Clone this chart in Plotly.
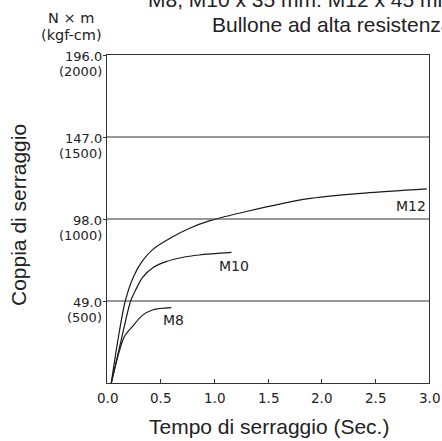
import plotly.graph_objects as go

# Data
m12_t = [0.04, 0.10, 0.17, 0.25, 0.33, 0.43, 0.60, 0.77, 0.96, 1.30, 1.86, 2.40, 2.98]
m12_v = [0, 25, 49, 64, 73, 80, 87, 92.5, 97, 102.5, 110, 113.5, 116]
m10_t = [0.04, 0.13, 0.22, 0.27, 0.33, 0.43, 0.55, 0.70, 0.86, 1.16]
m10_v = [0, 25, 49, 56, 63, 69, 72.5, 75, 76.5, 78]
m8_t = [0.04, 0.16, 0.24, 0.33, 0.43, 0.60]
m8_v = [0, 27.5, 34, 40.4, 43.8, 45]

curve_names = ["M12", "M10", "M8"]
label_t = [2.83, 1.18, 0.62]
label_v = [105.5, 69.7, 37.4]

y_ticks = [49, 98, 147, 196]
y_tick_nm = ["49.0", "98.0", "147.0", "196.0"]
y_tick_kgf = ["(500)", "(1000)", "(1500)", "(2000)"]
x_ticks = [0.0, 0.5, 1.0, 1.5, 2.0, 2.5, 3.0]
x_tick_text = ["0.0", "0.5", "1.0", "1.5", "2.0", "2.5", "3.0"]

FONT = "Liberation Sans"
NUMFONT = "DejaVu Sans"
TXT = "#222"

# plot area in screen pixels: x 107..429, y 55..383
def px(sx):
    return (sx - 107) / 322

def py(sy):
    return (383 - sy) / 328

fig = go.Figure()
for t, v in [(m12_t, m12_v), (m10_t, m10_v), (m8_t, m8_v)]:
    fig.add_trace(go.Scatter(x=t, y=v, mode="lines",
                             line=dict(color="#1a1a1a", width=1.2, shape="spline", smoothing=0.8),
                             showlegend=False, hoverinfo="skip"))

for name, t, v in zip(curve_names, label_t, label_v):
    fig.add_annotation(x=t, y=v, text=name, showarrow=False,
                       font=dict(family=NUMFONT, size=14, color=TXT))

for yv, a, b in zip(y_ticks, y_tick_nm, y_tick_kgf):
    fig.add_annotation(x=0, xref="paper", y=yv, text=a, showarrow=False,
                       xanchor="right", yanchor="middle", xshift=-4, yshift=-1, borderpad=0,
                       font=dict(family=NUMFONT, size=13, color=TXT))
    fig.add_annotation(x=0, xref="paper", y=yv, text=b, showarrow=False,
                       xanchor="right", yanchor="middle", xshift=-4, yshift=-16, borderpad=0,
                       font=dict(family=NUMFONT, size=13, color=TXT))

for xv, lab in zip(x_ticks, x_tick_text):
    fig.add_annotation(x=xv, y=0, yref="paper", text=lab, showarrow=False,
                       xanchor="center", yanchor="middle", yshift=-14.5,
                       font=dict(family=NUMFONT, size=13.5, color=TXT))

for yv in y_ticks[:3]:
    fig.add_shape(type="line", xref="paper", x0=0, x1=1, y0=yv, y1=yv,
                  line=dict(color="#333", width=1.2))

fig.add_annotation(x=px(71), xref="paper", y=py(18), yref="paper", text="N × m",
                   showarrow=False, xanchor="center", yanchor="middle", borderpad=0,
                   font=dict(family=NUMFONT, size=14.5, color=TXT))
fig.add_annotation(x=px(71), xref="paper", y=py(35), yref="paper", text="(kgf-cm)",
                   showarrow=False, xanchor="center", yanchor="middle", borderpad=0,
                   font=dict(family=NUMFONT, size=14.5, color=TXT))
fig.add_annotation(x=px(210), xref="paper", y=py(25), yref="paper",
                   text="Bullone ad alta resistenza", showarrow=False,
                   xanchor="left", yanchor="middle",
                   font=dict(family=FONT, size=21, color=TXT))
fig.add_annotation(x=px(146), xref="paper", y=py(-0.5), yref="paper",
                   text="M8, M10 x 35 mm. M12 x 45 mm", showarrow=False,
                   xanchor="left", yanchor="middle",
                   font=dict(family=FONT, size=21, color=TXT))
fig.add_annotation(x=px(269), xref="paper", y=py(426), yref="paper",
                   text="Tempo di serraggio (Sec.)", showarrow=False,
                   xanchor="center", yanchor="middle",
                   font=dict(family=FONT, size=21, color=TXT))
fig.add_annotation(x=px(18), xref="paper", y=py(215), yref="paper",
                   text="Coppia di serraggio", showarrow=False, textangle=-90,
                   xanchor="center", yanchor="middle",
                   font=dict(family=FONT, size=21, color=TXT))

fig.update_layout(
    width=442, height=441,
    margin=dict(l=107, r=13, t=55, b=58),
    paper_bgcolor="white", plot_bgcolor="white",
    hovermode=False,
    xaxis=dict(range=[0, 3.0], tickvals=x_ticks, showticklabels=False,
               ticks="inside", ticklen=4, tickcolor="#333", showgrid=False, zeroline=False,
               showline=True, linecolor="#333", linewidth=1.2, mirror=True),
    yaxis=dict(range=[0, 196], tickvals=y_ticks, showticklabels=False,
               ticks="outside", ticklen=3, tickcolor="#333", showgrid=False, zeroline=False,
               showline=True, linecolor="#333", linewidth=1.2, mirror=True),
)
fig.write_html("out.html", config={"displayModeBar": False, "staticPlot": True},
               post_script="document.body.style.margin='0';document.body.style.overflow='hidden';")
